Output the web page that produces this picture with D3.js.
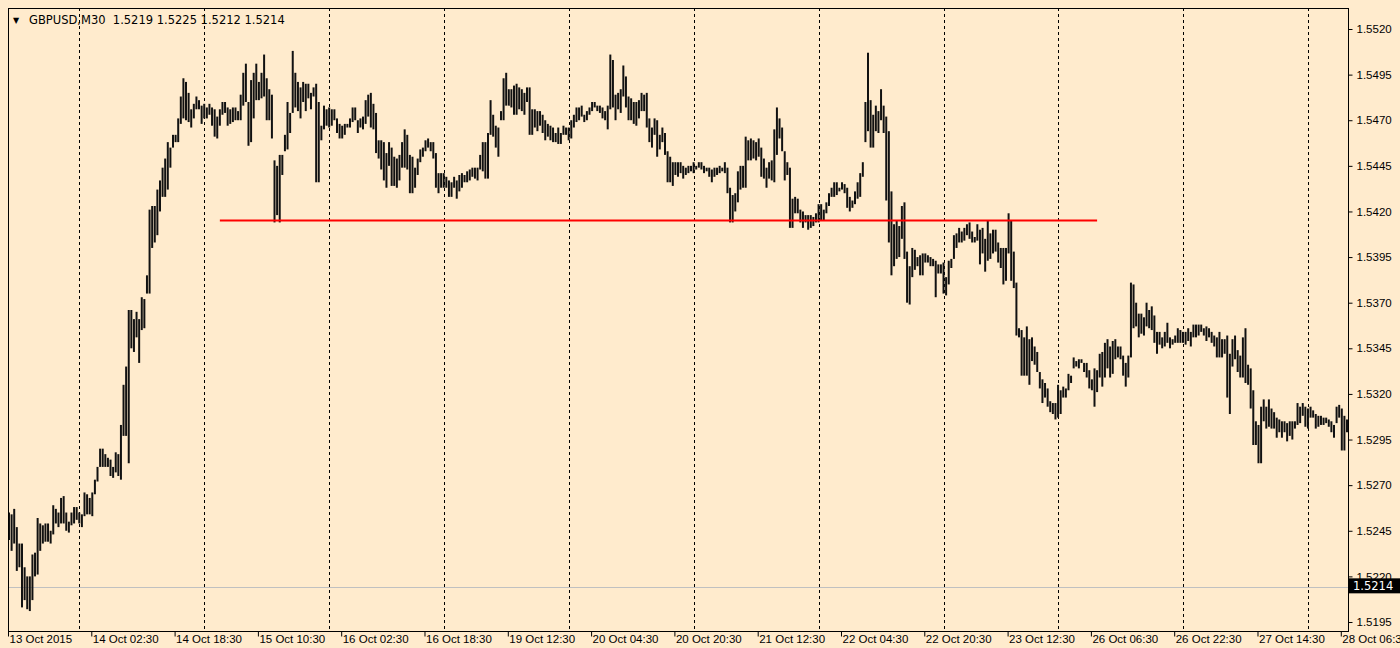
<!DOCTYPE html>
<meta charset="utf-8">
<script src="https://d3js.org/d3.v7.min.js"></script>
<style>
  body { margin: 0; background: #ffebcd; }
  svg { display: block; font-family: "DejaVu Sans", sans-serif; }
  .axis text { font-size: 11.5px; fill: #000; }
  .axis line { stroke: #000; }
</style>
<body></body>
<script>

  // GBPUSD M30 bars, 13 Oct 2015 10:30 .. 28 Oct 2015 07:30
  var high = [
    1.5255,1.5254,1.5257,1.5247,1.5238,1.5238,1.5225,1.5220,1.5220,1.5232,
    1.5233,1.5252,1.5249,1.5248,1.5249,1.5249,1.5245,1.5259,1.5257,1.5255,
    1.5263,1.5264,1.5255,1.5250,1.5255,1.5258,1.5258,1.5255,1.5254,1.5266,
    1.5265,1.5263,1.5266,1.5273,1.5280,1.5290,1.5290,1.5287,1.5285,1.5284,
    1.5280,1.5288,1.5287,1.5303,1.5325,1.5335,1.5366,1.5366,1.5361,1.5365,
    1.5361,1.5373,1.5372,1.5385,1.5421,1.5423,1.5423,1.5432,1.5437,1.5444,
    1.5449,1.5458,1.5455,1.5462,1.5462,1.5471,1.5483,1.5493,1.5491,1.5485,
    1.5476,1.5479,1.5483,1.5481,1.5478,1.5479,1.5477,1.5479,1.5477,1.5476,
    1.5472,1.5476,1.5480,1.5480,1.5477,1.5476,1.5477,1.5477,1.5475,1.5484,
    1.5496,1.5501,1.5480,1.5492,1.5496,1.5501,1.5491,1.5496,1.5506,1.5493,
    1.5487,1.5484,1.5448,1.5445,1.5451,1.5451,1.5462,1.5480,1.5474,1.5508,
    1.5496,1.5491,1.5488,1.5491,1.5490,1.5490,1.5485,1.5488,1.5490,1.5480,
    1.5467,1.5478,1.5476,1.5477,1.5476,1.5476,1.5471,1.5468,1.5467,1.5468,
    1.5468,1.5471,1.5477,1.5477,1.5470,1.5471,1.5472,1.5481,1.5484,1.5485,
    1.5479,1.5474,1.5459,1.5459,1.5458,1.5452,1.5458,1.5455,1.5450,1.5449,
    1.5451,1.5458,1.5465,1.5462,1.5451,1.5450,1.5444,1.5449,1.5454,1.5455,
    1.5459,1.5460,1.5458,1.5458,1.5452,1.5441,1.5441,1.5441,1.5439,1.5437,
    1.5436,1.5439,1.5437,1.5440,1.5441,1.5440,1.5442,1.5443,1.5444,1.5444,
    1.5444,1.5451,1.5458,1.5458,1.5463,1.5481,1.5473,1.5467,1.5466,1.5475,
    1.5493,1.5496,1.5487,1.5487,1.5489,1.5490,1.5488,1.5487,1.5485,1.5488,
    1.5488,1.5476,1.5476,1.5475,1.5475,1.5473,1.5470,1.5468,1.5467,1.5466,
    1.5463,1.5466,1.5463,1.5467,1.5466,1.5466,1.5470,1.5473,1.5477,1.5477,
    1.5478,1.5473,1.5475,1.5477,1.5480,1.5480,1.5478,1.5478,1.5477,1.5475,
    1.5478,1.5506,1.5503,1.5484,1.5485,1.5487,1.5500,1.5494,1.5483,1.5482,
    1.5480,1.5480,1.5481,1.5485,1.5484,1.5485,1.5471,1.5466,1.5471,1.5470,
    1.5462,1.5466,1.5463,1.5453,1.5450,1.5447,1.5447,1.5447,1.5447,1.5445,
    1.5444,1.5445,1.5445,1.5447,1.5445,1.5447,1.5447,1.5445,1.5444,1.5444,
    1.5443,1.5444,1.5444,1.5445,1.5444,1.5447,1.5444,1.5433,1.5429,1.5430,
    1.5442,1.5445,1.5445,1.5461,1.5459,1.5460,1.5459,1.5458,1.5460,1.5455,
    1.5449,1.5444,1.5447,1.5448,1.5465,1.5477,1.5471,1.5466,1.5453,1.5447,
    1.5444,1.5427,1.5428,1.5427,1.5421,1.5420,1.5418,1.5418,1.5418,1.5417,
    1.5419,1.5424,1.5424,1.5421,1.5425,1.5430,1.5433,1.5436,1.5436,1.5433,
    1.5436,1.5435,1.5433,1.5428,1.5426,1.5431,1.5436,1.5441,1.5447,1.5480,
    1.5507,1.5481,1.5473,1.5478,1.5475,1.5487,1.5478,1.5472,1.5464,1.5431,
    1.5413,1.5415,1.5412,1.5423,1.5425,1.5398,1.5390,1.5400,1.5399,1.5395,
    1.5396,1.5397,1.5397,1.5396,1.5395,1.5394,1.5393,1.5391,1.5391,1.5392,
    1.5384,1.5393,1.5394,1.5407,1.5408,1.5411,1.5409,1.5411,1.5413,1.5414,
    1.5409,1.5406,1.5413,1.5410,1.5411,1.5405,1.5415,1.5408,1.5410,1.5410,
    1.5403,1.5400,1.5400,1.5400,1.5419,1.5415,1.5398,1.5381,1.5356,1.5355,
    1.5351,1.5357,1.5350,1.5351,1.5346,1.5343,1.5332,1.5328,1.5326,1.5323,
    1.5316,1.5315,1.5315,1.5325,1.5322,1.5324,1.5323,1.5331,1.5330,1.5340,
    1.5338,1.5339,1.5339,1.5337,1.5337,1.5333,1.5328,1.5334,1.5333,1.5342,
    1.5343,1.5348,1.5350,1.5346,1.5349,1.5350,1.5346,1.5346,1.5341,1.5337,
    1.5341,1.5381,1.5380,1.5370,1.5364,1.5364,1.5362,1.5370,1.5366,1.5368,
    1.5363,1.5354,1.5354,1.5351,1.5354,1.5359,1.5351,1.5350,1.5352,1.5356,
    1.5355,1.5354,1.5354,1.5356,1.5354,1.5358,1.5358,1.5358,1.5358,1.5356,
    1.5357,1.5356,1.5354,1.5352,1.5351,1.5354,1.5350,1.5350,1.5352,1.5342,
    1.5350,1.5352,1.5344,1.5341,1.5351,1.5356,1.5336,1.5334,1.5322,1.5305,
    1.5303,1.5313,1.5317,1.5313,1.5317,1.5312,1.5310,1.5307,1.5306,1.5305,
    1.5305,1.5304,1.5305,1.5305,1.5305,1.5315,1.5313,1.5315,1.5313,1.5312,
    1.5313,1.5311,1.5309,1.5308,1.5308,1.5307,1.5307,1.5306,1.5305,1.5303,
    1.5313,1.5314,1.5312,1.5308,1.5306
  ];

  var low = [
    1.5240,1.5234,1.5238,1.5223,1.5225,1.5203,1.5207,1.5202,1.5201,1.5207,
    1.5220,1.5221,1.5234,1.5238,1.5239,1.5239,1.5238,1.5243,1.5249,1.5247,
    1.5249,1.5249,1.5245,1.5244,1.5248,1.5249,1.5251,1.5249,1.5247,1.5253,
    1.5254,1.5254,1.5253,1.5265,1.5272,1.5280,1.5280,1.5280,1.5280,1.5275,
    1.5274,1.5277,1.5275,1.5273,1.5297,1.5297,1.5282,1.5345,1.5343,1.5351,
    1.5337,1.5355,1.5356,1.5375,1.5375,1.5400,1.5403,1.5407,1.5420,1.5428,
    1.5428,1.5432,1.5444,1.5455,1.5458,1.5458,1.5468,1.5471,1.5470,1.5469,
    1.5466,1.5471,1.5476,1.5476,1.5468,1.5471,1.5471,1.5473,1.5467,1.5461,
    1.5460,1.5467,1.5473,1.5474,1.5467,1.5468,1.5469,1.5470,1.5470,1.5470,
    1.5478,1.5480,1.5456,1.5458,1.5471,1.5481,1.5481,1.5482,1.5483,1.5470,
    1.5470,1.5460,1.5414,1.5418,1.5414,1.5440,1.5453,1.5454,1.5463,1.5474,
    1.5477,1.5475,1.5471,1.5480,1.5475,1.5482,1.5476,1.5483,1.5436,1.5436,
    1.5459,1.5465,1.5467,1.5466,1.5467,1.5470,1.5463,1.5460,1.5460,1.5462,
    1.5466,1.5466,1.5469,1.5470,1.5463,1.5466,1.5465,1.5468,1.5472,1.5466,
    1.5465,1.5452,1.5449,1.5443,1.5437,1.5433,1.5445,1.5434,1.5434,1.5433,
    1.5437,1.5444,1.5444,1.5443,1.5430,1.5430,1.5433,1.5440,1.5447,1.5450,
    1.5453,1.5455,1.5453,1.5449,1.5433,1.5430,1.5433,1.5433,1.5433,1.5428,
    1.5428,1.5433,1.5427,1.5431,1.5433,1.5436,1.5436,1.5437,1.5439,1.5438,
    1.5437,1.5443,1.5442,1.5438,1.5438,1.5462,1.5461,1.5455,1.5450,1.5470,
    1.5470,1.5478,1.5478,1.5477,1.5473,1.5473,1.5476,1.5475,1.5473,1.5480,
    1.5462,1.5462,1.5466,1.5464,1.5467,1.5463,1.5459,1.5461,1.5459,1.5458,
    1.5458,1.5457,1.5457,1.5462,1.5462,1.5459,1.5460,1.5466,1.5469,1.5470,
    1.5472,1.5469,1.5470,1.5473,1.5475,1.5477,1.5475,1.5474,1.5471,1.5470,
    1.5465,1.5476,1.5477,1.5470,1.5476,1.5474,1.5483,1.5477,1.5470,1.5470,
    1.5468,1.5467,1.5471,1.5475,1.5475,1.5466,1.5458,1.5455,1.5462,1.5450,
    1.5454,1.5458,1.5451,1.5436,1.5436,1.5434,1.5440,1.5439,1.5441,1.5438,
    1.5440,1.5441,1.5442,1.5441,1.5443,1.5444,1.5443,1.5441,1.5442,1.5439,
    1.5436,1.5439,1.5440,1.5441,1.5442,1.5441,1.5430,1.5414,1.5414,1.5420,
    1.5425,1.5432,1.5433,1.5433,1.5448,1.5448,1.5449,1.5448,1.5450,1.5439,
    1.5438,1.5433,1.5438,1.5437,1.5436,1.5451,1.5460,1.5453,1.5437,1.5440,
    1.5411,1.5411,1.5419,1.5419,1.5414,1.5411,1.5414,1.5410,1.5411,1.5412,
    1.5414,1.5414,1.5415,1.5415,1.5419,1.5423,1.5428,1.5428,1.5429,1.5431,
    1.5432,1.5430,1.5422,1.5420,1.5422,1.5424,1.5427,1.5428,1.5439,1.5458,
    1.5464,1.5455,1.5455,1.5464,1.5463,1.5470,1.5463,1.5426,1.5403,1.5385,
    1.5390,1.5394,1.5395,1.5405,1.5394,1.5370,1.5369,1.5384,1.5388,1.5390,
    1.5385,1.5385,1.5392,1.5392,1.5390,1.5390,1.5373,1.5386,1.5386,1.5375,
    1.5374,1.5380,1.5389,1.5394,1.5400,1.5403,1.5403,1.5404,1.5407,1.5405,
    1.5403,1.5403,1.5404,1.5391,1.5397,1.5387,1.5393,1.5394,1.5397,1.5398,
    1.5392,1.5389,1.5380,1.5382,1.5397,1.5382,1.5378,1.5352,1.5351,1.5330,
    1.5330,1.5330,1.5325,1.5338,1.5336,1.5332,1.5323,1.5315,1.5318,1.5313,
    1.5310,1.5309,1.5306,1.5307,1.5309,1.5318,1.5318,1.5322,1.5326,1.5334,
    1.5335,1.5334,1.5337,1.5332,1.5329,1.5323,1.5322,1.5313,1.5321,1.5329,
    1.5324,1.5329,1.5334,1.5329,1.5331,1.5339,1.5340,1.5339,1.5330,1.5324,
    1.5329,1.5340,1.5356,1.5357,1.5351,1.5353,1.5352,1.5357,1.5356,1.5355,
    1.5348,1.5342,1.5347,1.5345,1.5346,1.5348,1.5345,1.5347,1.5348,1.5348,
    1.5348,1.5348,1.5347,1.5349,1.5346,1.5351,1.5351,1.5352,1.5354,1.5352,
    1.5349,1.5351,1.5348,1.5346,1.5340,1.5340,1.5340,1.5342,1.5318,1.5309,
    1.5335,1.5339,1.5332,1.5329,1.5329,1.5326,1.5325,1.5312,1.5292,1.5292,
    1.5282,1.5282,1.5305,1.5301,1.5302,1.5301,1.5301,1.5296,1.5299,1.5296,
    1.5299,1.5294,1.5297,1.5295,1.5301,1.5303,1.5304,1.5308,1.5302,1.5301,
    1.5307,1.5307,1.5301,1.5302,1.5303,1.5303,1.5304,1.5302,1.5299,1.5296,
    1.5304,1.5307,1.5289,1.5289,1.5299
  ];

  var priceTicks = [1.5195, 1.5220, 1.5245, 1.5270, 1.5295, 1.5320, 1.5345,
    1.5370, 1.5395, 1.5420, 1.5445, 1.5470, 1.5495, 1.5520];

  var timeLabels = ["13 Oct 2015", "14 Oct 02:30", "14 Oct 18:30", "15 Oct 10:30",
    "16 Oct 02:30", "16 Oct 18:30", "19 Oct 12:30", "20 Oct 04:30", "20 Oct 20:30",
    "21 Oct 12:30", "22 Oct 04:30", "22 Oct 20:30", "23 Oct 12:30", "26 Oct 06:30",
    "26 Oct 22:30", "27 Oct 14:30", "28 Oct 06:30"];

  var header = "GBPUSD,M30  1.5219 1.5225 1.5212 1.5214";
  var bidPrice = 1.5214;
  var supportLine = { from: "15 Oct 03:00", to: "26 Oct 07:30", price: 1.5415 };

  // bar times: 30 minute steps, market shut from friday 22:00 to monday 00:00
  var fmt = d3.timeFormat("%d %b %H:%M");
  var times = [];
  var t = new Date(2015, 9, 13, 10, 30);
  for (var i = 0; i < high.length; i++) {
    times.push(t);
    t = d3.timeMinute.offset(t, 30);
    if (t.getDay() === 5 && t.getHours() >= 22) t = d3.timeDay.offset(d3.timeDay.floor(t), 3);
  }
  var bars = high.map((h, i) => ({ i: i, t: times[i], high: h, low: low[i] }));
  var dayStarts = bars.filter(d => d.i > 0 && d.t.getHours() === 0 && d.t.getMinutes() === 0);

  var width = 1400, height = 648;
  var plot = { left: 8, right: 1348, top: 8, bottom: 631 };

  var svg = d3.select("body").append("svg")
    .attr("width", width)
    .attr("height", height);

  svg.append("rect")
    .attr("width", width).attr("height", height)
    .attr("fill", "#ffebcd");

  var x = d3.scaleLinear()
    .domain([0, bars.length - 1])
    .range([9, 1347]);

  var y = d3.scaleLinear()
    .domain([1.5195, 1.5520])
    .range([622, 29]);

  // day separators
  svg.selectAll(".sep")
    .data(dayStarts).enter().append("line")
    .attr("class", "sep")
    .attr("x1", d => Math.round(x(d.i)) + 0.5)
    .attr("x2", d => Math.round(x(d.i)) + 0.5)
    .attr("y1", plot.top)
    .attr("y2", plot.bottom)
    .attr("stroke", "#000")
    .attr("stroke-dasharray", "3,3");

  // bid line
  svg.append("line")
    .attr("x1", plot.left).attr("x2", plot.right)
    .attr("y1", Math.round(y(bidPrice)) + 0.5)
    .attr("y2", Math.round(y(bidPrice)) + 0.5)
    .attr("stroke", "#c0c0c0");

  // bars
  svg.selectAll(".bar")
    .data(bars).enter().append("line")
    .attr("class", "bar")
    .attr("x1", d => x(d.i))
    .attr("x2", d => x(d.i))
    .attr("y1", d => y(d.high))
    .attr("y2", d => y(d.low))
    .attr("stroke", "#111")
    .attr("stroke-width", 2);

  // support line drawn by hand on the chart
  var idx = s => times.findIndex(tt => fmt(tt) === s);
  svg.append("line")
    .attr("x1", x(idx(supportLine.from)))
    .attr("x2", x(idx(supportLine.to)))
    .attr("y1", y(supportLine.price))
    .attr("y2", y(supportLine.price))
    .attr("stroke", "#ff0000")
    .attr("stroke-width", 2);

  // frame
  svg.append("rect")
    .attr("x", plot.left + 0.5).attr("y", plot.top + 0.5)
    .attr("width", plot.right - plot.left).attr("height", plot.bottom - plot.top)
    .attr("fill", "none").attr("stroke", "#000");

  var yAxis = d3.axisRight(y)
    .tickValues(priceTicks)
    .tickFormat(d3.format(".4f"))
    .tickSize(4)
    .tickPadding(4);

  svg.append("g")
    .attr("class", "axis")
    .attr("transform", `translate(${plot.right + 0.5}, 0)`)
    .call(yAxis)
    .call(g => g.select(".domain").remove());

  var xAxis = d3.axisBottom(x)
    .tickValues(timeLabels.map((d, k) => k * 32))
    .tickFormat((d, k) => timeLabels[k])
    .tickSize(5);

  svg.append("g")
    .attr("class", "axis")
    .attr("transform", `translate(0, ${plot.bottom + 0.5})`)
    .call(xAxis)
    .call(g => g.select(".domain").remove())
    .call(g => g.selectAll(".tick line").attr("transform", "translate(-1,0)"))
    .call(g => g.selectAll(".tick text").attr("text-anchor", "start").attr("dx", 0).attr("y", 3));

  // bid price box
  var by = y(bidPrice);
  svg.append("rect")
    .attr("x", plot.right + 1).attr("y", by - 9)
    .attr("width", 51).attr("height", 15)
    .attr("fill", "#000");
  svg.append("text")
    .attr("x", plot.right + 5).attr("y", by + 3)
    .attr("fill", "#fff")
    .style("font-size", "11.5px")
    .text(d3.format(".4f")(bidPrice));

  // header
  svg.append("text")
    .attr("x", 13).attr("y", 23)
    .style("font-size", "8px")
    .text("\u25BC");
  svg.append("text")
    .attr("x", 29).attr("y", 24)
    .style("font-size", "11.5px")
    .style("white-space", "pre")
    .text(header);

</script>
